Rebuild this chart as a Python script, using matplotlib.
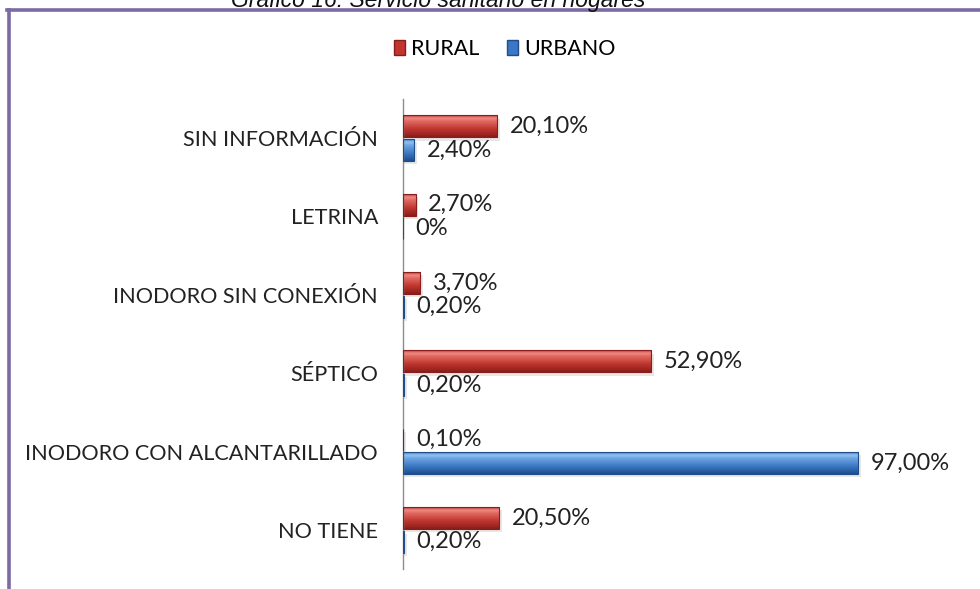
import numpy as np
import matplotlib
matplotlib.use('Agg')
from matplotlib import pyplot as plt
from matplotlib.patches import Patch
from matplotlib.lines import Line2D
from matplotlib.colors import LinearSegmentedColormap

categorias = ['NO TIENE', 'INODORO CON ALCANTARILLADO', 'SÉPTICO',
              'INODORO SIN CONEXIÓN', 'LETRINA', 'SIN INFORMACIÓN']
rural = [20.5, 0.1, 52.9, 3.7, 2.7, 20.1]
urbano = [0.2, 97.0, 0.2, 0.2, 0.0, 2.4]
etiq_rural = ['20,50%', '0,10%', '52,90%', '3,70%', '2,70%', '20,10%']
etiq_urbano = ['0,20%', '97,00%', '0,20%', '0,20%', '0%', '2,40%']

plt.rcParams['font.family'] = ['Lato', 'DejaVu Sans']

fig = plt.figure(figsize=(9.8, 5.89), dpi=100)
ax = fig.add_axes([403 / 980, 1 - 569 / 589, (966 - 403) / 980, (569 - 99) / 589])

y = np.arange(len(categorias))
h = 0.28

rojo = LinearSegmentedColormap.from_list('rojo', [
    (0.0, '#8a1d1b'), (0.35, '#bd342d'), (0.72, '#e0675f'),
    (0.86, '#ee8a83'), (1.0, '#c4403a')])
azul = LinearSegmentedColormap.from_list('azul', [
    (0.0, '#1f4d8c'), (0.35, '#3a78c4'), (0.72, '#6da4e2'),
    (0.86, '#94c1ef'), (1.0, '#4a84ca')])
grad = np.linspace(0, 1, 64).reshape(-1, 1)

def barras(vals, off, cmap, borde):
    bars = ax.barh(y + off, vals, height=h, color='none',
                   edgecolor=borde, linewidth=0.8, zorder=3)
    for b in bars:
        x0, y0 = b.get_x(), b.get_y()
        w, hh = b.get_width(), b.get_height()
        if w <= 0:
            continue
        # sombra
        ax.barh(y0 + hh / 2 - 0.04, w + 0.4, height=hh, left=0.2,
                color='#d8d8d8', alpha=0.6, zorder=1, linewidth=0)
        ax.imshow(grad, cmap=cmap, origin='lower', aspect='auto',
                  extent=(x0, x0 + w, y0, y0 + hh), zorder=2,
                  interpolation='bilinear')
    return bars

b_r = barras(rural, 0.15, rojo, '#8a1d1b')
b_u = barras(urbano, -0.15, azul, '#1f4d8c')

for b, t in zip(b_r, etiq_rural):
    ax.annotate(t, (b.get_width(), b.get_y() + b.get_height() / 2),
                xytext=(9, 0), textcoords='offset points',
                va='center', ha='left', fontsize=17, color='#222222')
for b, t in zip(b_u, etiq_urbano):
    ax.annotate(t, (b.get_width(), b.get_y() + b.get_height() / 2),
                xytext=(9, 0), textcoords='offset points',
                va='center', ha='left', fontsize=17, color='#222222')

ax.set_xlim(0, 120)
ax.set_ylim(-0.5, len(categorias) - 0.5)
ax.set_yticks(y)
ax.set_yticklabels(categorias, fontsize=15.6, color='#222222')
ax.set_xticks([])
ax.tick_params(axis='y', length=0, pad=18)
for s in ['top', 'right', 'bottom']:
    ax.spines[s].set_visible(False)
ax.spines['left'].set_color('#8c8c8c')
ax.spines['left'].set_linewidth(1.0)
ax.set_facecolor('none')

fig.legend(handles=[Patch(facecolor='#c0352e', edgecolor='#8a1d1b', label='RURAL'),
                    Patch(facecolor='#3a78c4', edgecolor='#1f4d8c', label='URBANO')],
           loc='center', bbox_to_anchor=(505 / 980, 1 - 49 / 589), ncol=2,
           frameon=False, fontsize=15.5, handlelength=0.5, handleheight=0.75,
           handletextpad=0.3, columnspacing=1.3)

fig.text(438 / 980, 1 - 7 / 589, 'Gráfico 16: Servicio sanitario en hogares',
         ha='center', va='baseline', fontsize=16.5, style='italic',
         family='Liberation Sans', color='#111111')

marco = '#7b6aa3'
fig.add_artist(Line2D([7 / 980, 1], [1 - 9.5 / 589, 1 - 9.5 / 589],
                      transform=fig.transFigure, color=marco, lw=2.6))
fig.add_artist(Line2D([8.5 / 980, 8.5 / 980], [1 - 9.5 / 589, 0],
                      transform=fig.transFigure, color=marco, lw=2.6))

fig.savefig('out.png', dpi=100)
